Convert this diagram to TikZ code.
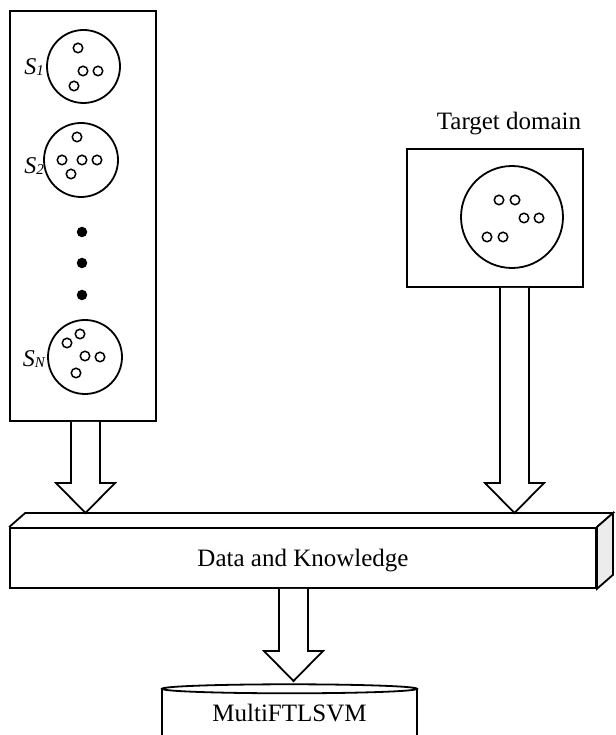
\documentclass[tikz,border=0pt]{standalone}
\usepackage{fontspec}
\setmainfont{Liberation Serif}
\usetikzlibrary{calc}
\tikzset{
  outline/.style={draw=black, line width=1.8pt},
  domainbox/.style={outline, rectangle, inner sep=0pt},
  cluster/.style={outline, circle, inner sep=0pt},
  sample/.style={draw=black, line width=1.5pt, circle, inner sep=0pt, minimum size=9.5pt},
  bigdot/.style={fill=black, circle, inner sep=0pt, minimum size=10.5pt},
  lbl/.style={font=\fontsize{25}{28}\selectfont, inner sep=0pt},
  slbl/.style={font=\fontsize{24}{24}\selectfont\itshape, inner sep=0pt, anchor=east},
  fatline/.style={draw=black, line width=1.8pt, line join=miter, fill=white},
}
\newcommand\fatarrow[2]{%
  \path[fatline] let \p1=#1, \p2=#2 in
    (\x2-14.5pt,\y1) -- (\x2-14.5pt,\y2+30pt) -- (\x2-29.5pt,\y2+30pt) -- (\x2,\y2)
    -- (\x2+29.5pt,\y2+30pt) -- (\x2+14.5pt,\y2+30pt) -- (\x2+14.5pt,\y1);}
\newcommand\sub[1]{\raisebox{-1.5pt}{\fontsize{15}{15}\selectfont #1}}
\begin{document}
\begin{tikzpicture}[x=1pt,y=1pt]
\useasboundingbox (0,0) rectangle (615,735);

% source domains box
\node[domainbox, minimum width=146pt, minimum height=410pt] (src) at (83,519) {};
\node[cluster, minimum size=73pt] (s1) at (83.5,668.5) {};
\node[cluster, minimum size=74pt] (s2) at (81,575) {};
\node[cluster, minimum size=74pt] (sn) at (85,378) {};
\node[slbl] (l1) at (44,668) {S\sub{1}};
\node[slbl] (l2) at (44,569) {S\sub{2}};
\node[slbl] (ln) at (45,376) {S\sub{N}};
\node[bigdot] (d1) at (82,503) {};
\node[bigdot] (d2) at (82,472) {};
\node[bigdot] (d3) at (82,440) {};
% samples S1
\node[sample] (a1) at (78,687) {};
\node[sample] (a2) at (83,664) {};
\node[sample] (a3) at (98,664) {};
\node[sample] (a4) at (74,649) {};
% samples S2
\node[sample] (b1) at (77,598) {};
\node[sample] (b2) at (62,575) {};
\node[sample] (b3) at (82,575) {};
\node[sample] (b4) at (97,575) {};
\node[sample] (b5) at (71,561) {};
% samples SN
\node[sample] (c1) at (80,401) {};
\node[sample] (c2) at (67,392) {};
\node[sample] (c3) at (85,379) {};
\node[sample] (c4) at (100,378) {};
\node[sample] (c5) at (76,362) {};

% target domain
\node[lbl] (tlabel) at (509,611) {Target domain};
\node[domainbox, minimum width=176pt, minimum height=138pt] (tgt) at (495,517) {};
\node[cluster, minimum size=102pt] (tc) at (512,518) {};
\node[sample] (t1) at (499,535) {};
\node[sample] (t2) at (515,535) {};
\node[sample] (t3) at (524,517) {};
\node[sample] (t4) at (539,517) {};
\node[sample] (t5) at (487,498) {};
\node[sample] (t6) at (503,498) {};

% data and knowledge bar
\node[domainbox, minimum width=586pt, minimum height=60pt] (data) at (303,177) {};
\node[lbl] (dtext) at (303,174) {Data and Knowledge};
\draw[outline, line join=miter] (data.north west) -- ++(16,14) -- ($(data.north east)+(16,14)$) -- (data.north east);
\draw[outline, line join=miter, fill=gray!15] (data.north east) -- ++(16,14) -- ($(data.south east)+(16,14)$) -- (data.south east) -- cycle;

% model cylinder
\node[inner sep=0pt, minimum width=255pt, minimum height=46pt] (model) at (289.5,23) {};
\node[lbl] (mtext) at (289.5,22) {MultiFTLSVM};
\draw[outline] (model.south west) -- (model.north west);
\draw[outline] (model.south east) -- (model.north east);
\draw[outline] (model.north) ellipse (127.5 and 4.5);

% arrows
\coordinate (tipL) at (85.5,222);
\coordinate (tipR) at (514.5,222);
\coordinate (tipB) at (293.5,54);
\fatarrow{(src.south)}{(tipL)}
\fatarrow{(tgt.south)}{(tipR)}
\fatarrow{(data.south)}{(tipB)}
\end{tikzpicture}
\end{document}
